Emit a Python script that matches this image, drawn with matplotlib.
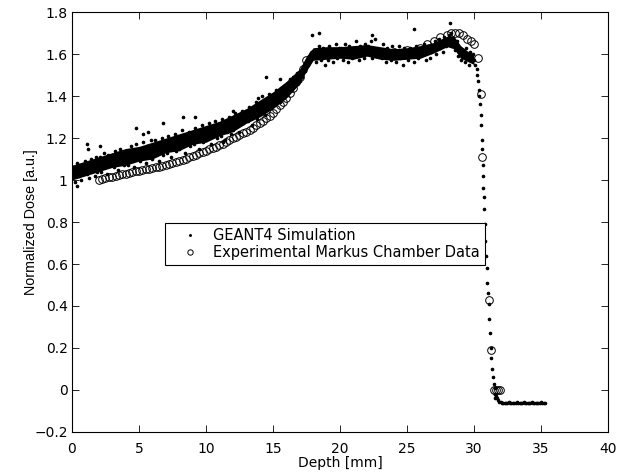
import numpy as np
import matplotlib
matplotlib.use("Agg")
import matplotlib.pyplot as plt
from matplotlib.ticker import FuncFormatter

plt.rcParams['font.family'] = ['DejaVu Sans']

# --- GEANT4 simulation: dense part, one row per mm (0.1 mm bins) ---
sim_rows = [
    [1.01, 1.06, 0.99, 1.04, 1.08, 1.02, 1.05, 1.00, 1.07, 1.03],
    [1.09, 1.03, 1.06, 1.01, 1.10, 1.05, 1.08, 1.02, 1.11, 1.04],
    [1.06, 1.11, 1.04, 1.09, 1.13, 1.07, 1.03, 1.12, 1.08, 1.10],
    [1.12, 1.06, 1.14, 1.09, 1.05, 1.11, 1.15, 1.08, 1.13, 1.07],
    [1.09, 1.14, 1.07, 1.12, 1.16, 1.10, 1.06, 1.13, 1.17, 1.11],
    [1.15, 1.09, 1.13, 1.18, 1.11, 1.08, 1.16, 1.12, 1.14, 1.19],
    [1.10, 1.15, 1.19, 1.13, 1.17, 1.09, 1.14, 1.20, 1.12, 1.16],
    [1.18, 1.13, 1.21, 1.15, 1.11, 1.19, 1.16, 1.22, 1.14, 1.17],
    [1.15, 1.20, 1.24, 1.17, 1.13, 1.21, 1.18, 1.23, 1.16, 1.19],
    [1.22, 1.17, 1.25, 1.19, 1.23, 1.15, 1.21, 1.26, 1.18, 1.20],
    [1.19, 1.24, 1.27, 1.21, 1.17, 1.25, 1.22, 1.28, 1.20, 1.23],
    [1.26, 1.21, 1.29, 1.24, 1.19, 1.27, 1.23, 1.30, 1.25, 1.22],
    [1.24, 1.29, 1.32, 1.26, 1.30, 1.23, 1.28, 1.33, 1.27, 1.31],
    [1.33, 1.28, 1.35, 1.30, 1.26, 1.34, 1.31, 1.37, 1.29, 1.36],
    [1.32, 1.37, 1.40, 1.34, 1.31, 1.38, 1.35, 1.41, 1.36, 1.39],
    [1.40, 1.36, 1.43, 1.38, 1.42, 1.37, 1.44, 1.40, 1.45, 1.41],
    [1.41, 1.46, 1.43, 1.48, 1.44, 1.49, 1.45, 1.47, 1.51, 1.46],
    [1.47, 1.51, 1.49, 1.54, 1.52, 1.56, 1.55, 1.59, 1.57, 1.60],
    [1.58, 1.62, 1.56, 1.61, 1.64, 1.59, 1.57, 1.63, 1.60, 1.55],
    [1.61, 1.57, 1.64, 1.59, 1.62, 1.56, 1.60, 1.65, 1.58, 1.63],
    [1.59, 1.63, 1.57, 1.62, 1.65, 1.60, 1.56, 1.64, 1.61, 1.58],
    [1.63, 1.59, 1.66, 1.61, 1.57, 1.64, 1.60, 1.62, 1.58, 1.65],
    [1.60, 1.64, 1.61, 1.66, 1.58, 1.63, 1.67, 1.59, 1.62, 1.60],
    [1.62, 1.58, 1.65, 1.60, 1.56, 1.63, 1.59, 1.61, 1.57, 1.64],
    [1.59, 1.62, 1.56, 1.61, 1.64, 1.58, 1.60, 1.55, 1.63, 1.59],
    [1.61, 1.57, 1.63, 1.59, 1.62, 1.56, 1.60, 1.64, 1.58, 1.61],
    [1.59, 1.63, 1.60, 1.65, 1.57, 1.62, 1.64, 1.58, 1.61, 1.63],
    [1.62, 1.66, 1.60, 1.64, 1.67, 1.63, 1.65, 1.61, 1.68, 1.64],
    [1.66, 1.69, 1.65, 1.70, 1.67, 1.64, 1.62, 1.66, 1.59, 1.63],
    [1.57, 1.62, 1.60, 1.56, 1.63, 1.59, 1.55, 1.61, 1.58, 1.60],
    [1.57, 1.55],
]

# distal fall-off of the simulation
fall_depth = [30.2, 30.25, 30.3, 30.35, 30.4, 30.45, 30.5, 30.55, 30.6, 30.62,
              30.65, 30.68, 30.7, 30.72, 30.75, 30.8, 30.85, 30.9, 30.95, 31.0,
              31.05, 31.1, 31.15, 31.2, 31.25, 31.3, 31.37, 31.45, 31.52, 31.55,
              31.55, 31.57, 31.6, 31.65, 31.7, 31.8, 31.9, 32.0, 32.1, 32.2]
fall_dose = [1.53, 1.50, 1.47, 1.43, 1.40, 1.36, 1.31, 1.26, 1.19, 1.15,
             1.07, 1.02, 0.96, 0.92, 0.86, 0.79, 0.71, 0.64, 0.58, 0.51,
             0.46, 0.41, 0.34, 0.27, 0.20, 0.15, 0.10, 0.06, 0.03, 0.01,
             -0.02, -0.04, -0.02, -0.03, -0.04, -0.05, -0.055, -0.058, -0.06, -0.06]

# flat tail behind the peak
tail_depth = [32.3, 32.4, 32.5, 32.6, 32.7, 32.8, 32.9, 33.0, 33.1, 33.2,
              33.3, 33.4, 33.5, 33.6, 33.7, 33.8, 33.9, 34.0, 34.1, 34.2,
              34.3, 34.4, 34.5, 34.6, 34.7, 34.8, 34.9, 35.0, 35.1, 35.2, 35.3]
tail_dose = [-0.060, -0.061, -0.060, -0.059, -0.061, -0.060, -0.060, -0.061, -0.060, -0.059,
             -0.060, -0.061, -0.060, -0.060, -0.059, -0.061, -0.060, -0.060, -0.061, -0.060,
             -0.059, -0.060, -0.061, -0.060, -0.060, -0.061, -0.060, -0.059, -0.060, -0.061, -0.060]

# stray simulation points outside the main band
stray_depth = [0.35, 1.1, 1.2, 2.1, 4.8, 5.3, 5.7, 6.8, 8.3, 9.2, 12.0, 13.9,
               14.5, 15.5, 15.1, 17.9, 18.4, 22.4, 25.5, 28.2, 11.3]
stray_dose = [0.97, 1.17, 1.15, 1.16, 1.25, 1.22, 1.23, 1.27, 1.30, 1.30, 1.33, 1.39,
              1.49, 1.48, 1.36, 1.69, 1.70, 1.69, 1.72, 1.75, 1.18]

# dense core of the simulation band (lower / upper edge)
band_depth = [0, 1, 2, 3, 4, 5, 6, 7, 8, 9, 10, 11, 12, 13, 14, 15, 16, 17, 17.5,
              18, 19, 20, 21, 22, 23, 24, 25, 26, 27, 28, 28.5, 29, 29.5, 30]
band_lo = [1.00, 1.02, 1.04, 1.06, 1.07, 1.09, 1.10, 1.13, 1.14, 1.17, 1.18, 1.21,
           1.23, 1.27, 1.30, 1.34, 1.39, 1.46, 1.52, 1.57, 1.575, 1.58, 1.575, 1.59,
           1.575, 1.57, 1.575, 1.58, 1.605, 1.635, 1.625, 1.58, 1.565, 1.55]
band_hi = [1.07, 1.09, 1.11, 1.13, 1.15, 1.16, 1.18, 1.20, 1.22, 1.24, 1.26, 1.28,
           1.31, 1.34, 1.38, 1.42, 1.47, 1.53, 1.59, 1.63, 1.635, 1.635, 1.64, 1.645,
           1.635, 1.625, 1.63, 1.64, 1.655, 1.685, 1.685, 1.64, 1.615, 1.595]

# --- Markus chamber measurement ---
exp_depth = [2.0, 2.25, 2.5, 2.75, 3.0, 3.25, 3.5, 3.75, 4.0, 4.25, 4.5, 4.75,
             5.0, 5.25, 5.5, 5.75, 6.0, 6.25, 6.5, 6.75, 7.0, 7.25, 7.5, 7.75,
             8.0, 8.25, 8.5, 8.75, 9.0, 9.25, 9.5, 9.75, 10.0, 10.25, 10.5, 10.75,
             11.0, 11.25, 11.5, 11.75, 12.0, 12.25, 12.5, 12.75, 13.0, 13.25, 13.5, 13.75,
             14.0, 14.25, 14.5, 14.75, 15.0, 15.25, 15.5, 15.75, 16.0, 16.25, 16.5, 16.75,
             17.0, 17.25, 17.5, 18.0, 19.0, 20.0, 21.0, 22.0, 23.0, 24.0, 25.0, 26.0,
             26.5, 27.0, 27.5, 28.0, 28.3, 28.6, 28.9, 29.2, 29.5, 29.8, 30.0, 30.3,
             30.5, 30.6, 31.1, 31.25, 31.5, 31.65, 31.8, 31.95]
exp_dose = [1.00, 1.004, 1.008, 1.012, 1.015, 1.019, 1.023, 1.027, 1.030, 1.034, 1.038, 1.042,
            1.045, 1.048, 1.051, 1.053, 1.055, 1.060, 1.064, 1.068, 1.072, 1.076, 1.080, 1.085,
            1.090, 1.096, 1.102, 1.108, 1.114, 1.120, 1.127, 1.134, 1.140, 1.146, 1.152, 1.158,
            1.165, 1.173, 1.181, 1.190, 1.200, 1.207, 1.215, 1.222, 1.230, 1.240, 1.250, 1.260,
            1.270, 1.282, 1.295, 1.307, 1.320, 1.337, 1.355, 1.372, 1.390, 1.415, 1.440, 1.465,
            1.490, 1.530, 1.570, 1.60, 1.61, 1.61, 1.61, 1.62, 1.61, 1.61, 1.62, 1.63,
            1.65, 1.66, 1.68, 1.69, 1.70, 1.70, 1.70, 1.69, 1.67, 1.66, 1.65, 1.58,
            1.41, 1.11, 0.43, 0.19, 0.0, 0.0, 0.0, 0.0]

# assemble simulation arrays
sim_depth, sim_dose = [], []
for i, row in enumerate(sim_rows):
    for j, v in enumerate(row):
        sim_depth.append(round(i + 0.1 * j, 2))
        sim_dose.append(v)
sim_depth += fall_depth + tail_depth + stray_depth
sim_dose += fall_dose + tail_dose + stray_dose

fig = plt.figure(figsize=(6.28, 4.73), dpi=100)
ax = fig.add_axes([0.1146, 0.0867, 0.8535, 0.8879])

ax.fill_between(band_depth, band_lo, band_hi, color='black', linewidth=0, zorder=1)
ax.plot(sim_depth, sim_dose, linestyle='none', marker='.', markersize=3.2,
        color='black', label='GEANT4 Simulation', zorder=2)
ax.plot(exp_depth, exp_dose, linestyle='none', marker='o', markersize=5.5,
        markerfacecolor='none', markeredgecolor='black', markeredgewidth=0.7,
        label='Experimental Markus Chamber Data', zorder=3)

ax.set_xlim(0, 40)
ax.set_ylim(-0.2, 1.8)
ax.set_xticks(np.arange(0, 41, 5))
ax.set_yticks(np.arange(-0.2, 1.81, 0.2))
ax.yaxis.set_major_formatter(FuncFormatter(lambda v, p: f"{v:g}".replace('-', '\u2212')))
ax.tick_params(direction='in', length=5, width=0.6, top=True, right=True,
               labelsize=10, colors='black')
ax.tick_params(axis='x', pad=7)
ax.tick_params(axis='y', pad=3)
for s in ax.spines.values():
    s.set_linewidth(0.8)

ax.set_xlabel('Depth [mm]', fontsize=10, labelpad=0)
ax.set_ylabel('Normalized Dose [a.u.]', fontsize=10.3, family='Liberation Sans')
ax.yaxis.set_label_coords(-0.064, 0.5)

leg = ax.legend(loc='upper left', bbox_to_anchor=(0.1735, 0.4976), borderaxespad=0,
                fontsize=10.5, frameon=True, framealpha=1, fancybox=False,
                handlelength=2.74, handletextpad=0.2, borderpad=0.35,
                labelspacing=0.14, markerscale=0.7)
leg.get_frame().set_edgecolor('black')
leg.get_frame().set_linewidth(0.8)
leg.set_zorder(5)

fig.savefig('out.png', dpi=100)
